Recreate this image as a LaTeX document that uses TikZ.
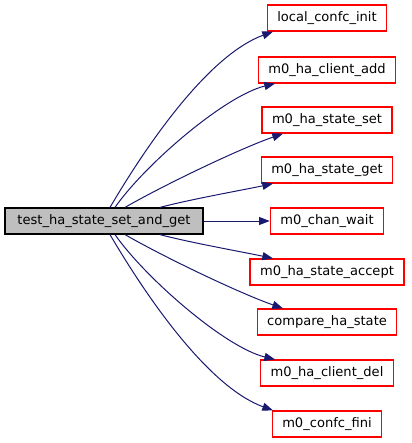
\documentclass[tikz,border=0pt]{standalone}
\usepackage{fontspec}
\setmainfont{DejaVu Sans}
\usetikzlibrary{arrows.meta,calc,positioning}
\definecolor{callblue}{RGB}{25,25,112}
\definecolor{maingrey}{RGB}{191,191,191}

\begin{document}
\begin{tikzpicture}[x=0.75pt,y=-0.75pt,>={Triangle[length=8pt,width=6pt]},
  fnbox/.style={draw=red,line width=0.9pt,fill=white,inner xsep=7.5pt,inner ysep=0pt,
    minimum height=19.5pt,font=\fontsize{9.8}{12}\selectfont},
  mainbox/.style={fnbox,draw=black,fill=maingrey,minimum width=148.5pt},
  call/.style={->,draw=callblue,fill=none,line width=0.75pt}]
  \useasboundingbox (0,0) rectangle (411,443);
  \node[mainbox] (main) at (104,221) {test\_ha\_state\_set\_and\_get};
  \foreach \k/\y/\name in {1/18/local\_confc\_init,2/70/m0\_ha\_client\_add,3/120/m0\_ha\_state\_set,
      4/170/m0\_ha\_state\_get,5/221/m0\_chan\_wait,6/272/m0\_ha\_state\_accept,7/322/compare\_ha\_state,
      8/373/m0\_ha\_client\_del,9/424/m0\_confc\_fini}{
    \node[fnbox] (n\k) at (327,\y) {\name};
  }
  % calls above and below the middle one mirror each other
  \foreach \u/\l/\sx/\ex/\ax/\ay/\bx/\by in {1/9/6/-54/40/-68/-63/23,2/8/11/-52/30/-43/-50/12,
      3/7/21/-44/40/-23/-43/15,4/6/56/-54/30/-8/-28/6}{
    \draw[call] ($(main.north)+(\sx,0)$) .. controls +(\ax,\ay) and +(\bx,\by) .. ($(n\u.south)+(\ex,0)$);
    \draw[call] ($(main.south)+(\sx,0)$) .. controls +(\ax,{-1*\ay}) and +(\bx,{-1*\by}) .. ($(n\l.north)+(\ex,0)$);
  }
  \draw[call] (main) -- (n5);
\end{tikzpicture}
\end{document}
